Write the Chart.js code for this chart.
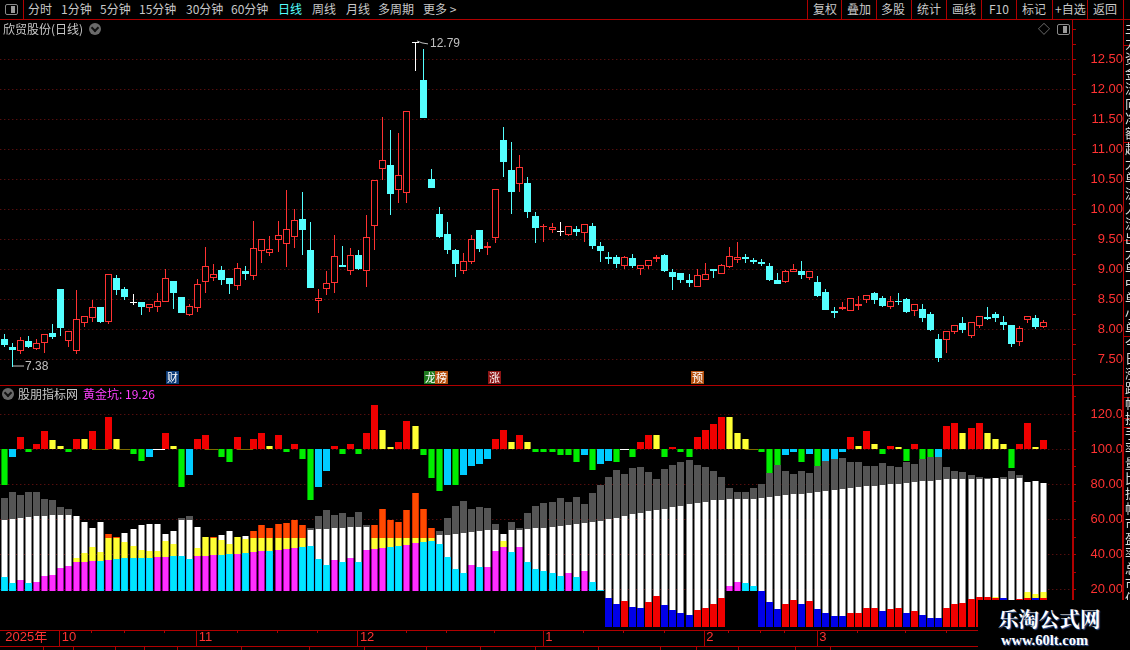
<!DOCTYPE html>
<html lang="zh">
<head>
<meta charset="utf-8">
<title>欣贸股份(日线)</title>
<script src="https://cdn.jsdelivr.net/npm/chart.js@4/dist/chart.umd.min.js"></script>
<style>
html, body { margin: 0; background: #000; }
body { position: relative; width: 1130px; height: 650px; overflow: hidden; font-family: "Noto Sans CJK SC", sans-serif; font-size: 12px; color: #c8c8c8; }
canvas { position: absolute; left: 0; }
#priceChart { top: 20px; }
#pitChart { top: 386px; }
.t { position: absolute; white-space: nowrap; line-height: 16px; }
.line { position: absolute; background: #b00000; }
.dot { position: absolute; width: 12px; height: 12px; border-radius: 50%; background: #6a6a6a; }
.dot::after { content: ""; position: absolute; left: 3px; top: 2px; width: 4px; height: 4px; border: solid #111; border-width: 0 2px 2px 0; transform: rotate(45deg); }
.pane { position: absolute; width: 11px; height: 9px; border: 1px solid #8a8a8a; border-radius: 2px; }
.pane::after { content: ""; position: absolute; left: 5px; top: 1px; width: 4px; height: 7px; background: #9a9a9a; }
.badge { position: absolute; top: 371px; height: 13px; line-height: 13px; width: 13px; text-align: center; color: #fff; font-size: 11px; }
#strip { position: absolute; left: 1125px; top: 20px; width: 5px; height: 580px; overflow: hidden; font-size: 13px; line-height: 15px; color: #ddd; word-break: break-all; }
#mark { position: absolute; left: 978px; top: 600px; width: 152px; height: 50px; background: #000; color: #fff; font-family: "Liberation Serif", serif; font-weight: bold; }
#mark div { position: absolute; white-space: nowrap; text-shadow: 1px 1px 1px #35589a; }
</style>
</head>
<body>
<canvas id="priceChart" width="1123" height="365"></canvas>
<canvas id="pitChart" width="1123" height="260"></canvas>
<div id="overlay"></div>
<div id="strip"></div>
<div id="mark">
  <div style="left:20px;top:6px;font-size:20.5px;line-height:24px;font-family:'Noto Serif CJK SC','Noto Sans CJK SC',serif">乐淘公式网</div>
  <div style="left:23px;top:32px;font-size:14.5px;line-height:16px">www.60lt.com</div>
</div>
<script>
// 日K线数据
const priceOpen = [
  7.84, 7.71, 7.64, 7.81, 7.67, 7.78, 7.94, 8.67, 7.81, 7.64,
  8.11, 8.19, 8.37, 8.12, 8.86, 8.67, 8.46, 8.46, 8.36, 8.37,
  8.46, 8.81, 8.54, 8.24, 8.36, 8.79, 8.86, 8.99, 8.86, 8.72,
  8.97, 8.89, 9.31, 9.27, 9.49, 9.42, 9.54, 9.84, 9.33, 8.47,
  8.67, 8.78, 9.07, 8.97, 9.24, 8.97, 9.72, 10.68, 10.74, 10.32,
  10.28, 12.79, 12.16, 10.51, 9.93, 9.59, 9.33, 8.98, 9.13, 9.66,
  9.35, 9.53, 11.16, 10.66, 10.43, 10.44, 9.89, 9.70, 9.66, 9.64,
  9.57, 9.67, 9.61, 9.72, 9.39, 9.21, 9.21, 9.06, 9.19, 9.01,
  9.06, 9.18, 9.24, 8.96, 8.94, 8.82, 8.71, 8.82, 9.01, 8.92,
  9.04, 9.16, 9.21, 9.16, 9.12, 9.06, 8.82, 8.79, 8.96, 8.97,
  8.86, 8.79, 8.62, 8.30, 8.34, 8.31, 8.39, 8.49, 8.61, 8.52,
  8.37, 8.47, 8.51, 8.31, 8.34, 8.26, 7.84, 7.83, 7.96, 8.11,
  7.89, 8.06, 8.20, 8.26, 8.12, 8.07, 7.79, 8.16, 8.19, 8.04
];
const priceClose = [
  7.74, 7.66, 7.83, 7.71, 7.77, 7.93, 7.87, 8.02, 7.98, 8.17,
  8.23, 8.37, 8.12, 8.93, 8.66, 8.54, 8.46, 8.37, 8.42, 8.47,
  8.85, 8.61, 8.27, 8.39, 8.75, 9.05, 8.92, 8.82, 8.76, 9.02,
  8.92, 9.35, 9.50, 9.34, 9.57, 9.67, 9.82, 9.66, 8.69, 8.52,
  8.77, 9.22, 9.04, 9.24, 9.01, 9.54, 10.49, 10.82, 10.26, 10.57,
  11.64, 12.79, 11.53, 10.36, 9.54, 9.33, 9.09, 9.14, 9.51, 9.34,
  9.39, 10.34, 10.79, 10.29, 10.71, 9.96, 9.69, 9.73, 9.70, 9.64,
  9.72, 9.62, 9.75, 9.39, 9.31, 9.17, 9.09, 9.20, 9.06, 9.08,
  9.15, 9.21, 8.97, 8.87, 8.82, 8.77, 8.90, 8.92, 8.97, 9.07,
  9.22, 9.20, 9.17, 9.12, 9.09, 8.82, 8.76, 8.97, 9.00, 8.91,
  8.97, 8.56, 8.32, 8.28, 8.37, 8.52, 8.42, 8.58, 8.49, 8.39,
  8.47, 8.45, 8.29, 8.42, 8.19, 7.99, 7.52, 7.97, 8.08, 7.99,
  8.13, 8.23, 8.17, 8.19, 8.07, 7.76, 8.02, 8.23, 8.04, 8.13
];
const priceHigh = [
  7.92, 7.77, 7.87, 7.89, 7.84, 7.93, 8.09, 8.67, 7.98, 8.65,
  8.23, 8.49, 8.37, 8.93, 8.91, 8.71, 8.59, 8.46, 8.42, 8.61,
  9.00, 8.81, 8.54, 8.42, 8.84, 9.37, 9.09, 9.06, 8.86, 9.11,
  9.06, 9.81, 9.50, 9.56, 9.81, 10.33, 10.00, 10.29, 9.79, 8.68,
  8.98, 9.58, 9.39, 9.36, 9.33, 9.91, 10.49, 11.54, 11.33, 11.28,
  11.64, 12.79, 12.68, 10.68, 10.04, 9.79, 9.34, 9.28, 9.58, 9.66,
  9.46, 10.34, 11.38, 11.13, 10.91, 10.54, 9.96, 9.76, 9.77, 9.79,
  9.72, 9.72, 9.75, 9.77, 9.46, 9.29, 9.24, 9.22, 9.26, 9.08,
  9.15, 9.24, 9.26, 9.01, 8.94, 8.92, 9.01, 9.11, 9.01, 9.09,
  9.37, 9.46, 9.26, 9.19, 9.17, 9.11, 8.94, 8.99, 9.09, 9.14,
  8.97, 8.89, 8.67, 8.37, 8.46, 8.52, 8.56, 8.58, 8.62, 8.56,
  8.56, 8.61, 8.52, 8.42, 8.42, 8.29, 7.92, 7.97, 8.08, 8.21,
  8.13, 8.23, 8.37, 8.29, 8.22, 8.07, 8.05, 8.23, 8.24, 8.16
];
const priceLow = [
  7.71, 7.38, 7.59, 7.69, 7.66, 7.61, 7.84, 7.89, 7.71, 7.59,
  8.04, 8.12, 8.11, 8.09, 8.57, 8.49, 8.41, 8.24, 8.29, 8.29,
  8.46, 8.34, 8.27, 8.22, 8.29, 8.61, 8.81, 8.74, 8.59, 8.66,
  8.82, 8.82, 9.11, 9.23, 9.29, 9.04, 9.36, 9.24, 8.69, 8.28,
  8.58, 8.61, 9.04, 8.91, 8.99, 8.71, 9.33, 10.49, 9.91, 10.11,
  10.11, 12.31, 11.53, 10.36, 9.53, 9.26, 8.88, 8.93, 9.09, 9.29,
  9.24, 9.44, 10.54, 9.93, 10.29, 9.86, 9.44, 9.46, 9.61, 9.56,
  9.56, 9.56, 9.46, 9.34, 9.12, 9.09, 9.02, 9.01, 9.02, 8.91,
  9.01, 9.12, 8.96, 8.66, 8.77, 8.71, 8.71, 8.82, 8.86, 8.92,
  9.02, 9.11, 9.11, 9.09, 9.06, 8.81, 8.76, 8.77, 8.96, 8.84,
  8.82, 8.54, 8.32, 8.19, 8.32, 8.31, 8.32, 8.44, 8.42, 8.37,
  8.34, 8.41, 8.27, 8.22, 8.12, 7.97, 7.46, 7.61, 7.92, 7.94,
  7.86, 8.02, 8.16, 8.12, 7.99, 7.71, 7.72, 8.11, 8.01, 8.02
];

// 上方红绿柱 (以100为中轴)
const histValue = [
  79.7, 95.6, 107, 98.5, 103, 110.4, 105.3, 101.9, 98.5, 105.9,
  105.9, 110.4, 100, 118.4, 105.9, 100, 97.3, 93.4, 95.6, 100,
  109.3, 101.9, 78.6, 85.4, 105.9, 108.2, 100, 95.6, 92.8, 107,
  100, 105.9, 109.3, 101.9, 108.2, 98.5, 103, 94.5, 71.2, 78.6,
  87.7, 101.9, 97.3, 103, 97.3, 109.3, 125.2, 111, 101.3, 104.2,
  116.1, 113.3, 96.8, 83.7, 76.3, 79.7, 79.7, 85.4, 90.5, 91.7,
  94.5, 105.9, 111, 104.2, 108.2, 104.2, 98.5, 98.5, 98.5, 96.8,
  96.8, 92.8, 96.8, 88.2, 91.7, 93.4, 92.8, 100, 95.6, 104.2,
  108.2, 108.2, 95.6, 101.3, 98.5, 95.6, 107, 111, 114.4, 118.4,
  118.4, 109.3, 105.9, 100, 98.5, 86.5, 91.1, 96.8, 98.5, 92.8,
  97.3, 90.5, 93.4, 94.5, 98.5, 107, 101.9, 110.4, 103, 97.3,
  101.9, 101.3, 93.4, 103, 94.5, 95.6, 95.6, 113.3, 115, 109.3,
  112.1, 115, 109.3, 105.9, 103, 89.4, 103, 115, 101.3, 105.3
];
// r红 y黄 g绿 c青 f平(暗黄) w平(白)
const histKind = [
  'g','c','r','g','r','r','y','y','g','r',
  'y','r','f','r','y','f','g','g','c','w',
  'r','y','g','c','r','r','f','g','g','r',
  'f','r','r','y','r','g','r','g','g','c',
  'c','r','g','r','g','r','r','y','y','r',
  'r','y','g','g','g','c','g','c','c','c',
  'c','r','r','y','r','y','g','g','g','g',
  'g','g','c','g','c','c','g','w','g','r',
  'r','y','g','r','g','g','r','r','r','r',
  'y','y','y','f','g','g','g','c','c','g',
  'c','g','c','c','c','r','y','r','y','g',
  'r','y','g','r','g','g','c','r','r','y',
  'r','r','y','y','y','g','r','r','y','r'
];

// 下方柱: 底色段 (c青 m紫 b蓝 r红)
const baseKind = [
  'c','c','m','c','m','m','m','m','m','m',
  'm','m','c','m','c','c','c','c','c','m',
  'm','c','c','c','m','m','m','c','c','m',
  'c','m','m','c','m','m','m','c','c','c',
  'c','m','c','m','c','m','m','m','c','c',
  'm','m','c','c','c','c','c','c','m','c',
  'm','m','m','c','m','c','c','c','c','c',
  'm','c','m','c','c','b','b','r','b','b',
  'r','r','b','b','b','b','r','r','r','r',
  'm','m','c','c','b','b','b','r','r','b',
  'r','b','b','b','b','r','r','r','r','b',
  'r','r','b','r','b','b','b','r','r','r',
  'r','r','r','r','b','r','r','r','b','r'
];
const baseTop = [
  27.3, 23.9, 25.6, 23.9, 24.5, 27.9, 28.5, 32.4, 33.6, 35.9,
  35.9, 36.4, 36.4, 37.0, 37.6, 38.1, 38.1, 38.1, 38.1, 38.7,
  38.7, 39.3, 39.3, 37.6, 39.3, 39.3, 39.8, 39.8, 40.4, 40.4,
  41.0, 41.6, 42.1, 42.1, 42.7, 43.3, 43.8, 44.4, 45.0, 37.6,
  34.2, 37.0, 35.9, 38.1, 35.9, 42.7, 43.3, 43.8, 44.4, 45.0,
  45.5, 46.7, 47.2, 47.8, 46.1, 38.7, 31.9, 29.6, 34.2, 33.0,
  33.0, 42.1, 44.4, 41.6, 44.4, 35.9, 31.9, 30.7, 29.6, 27.9,
  29.6, 27.3, 30.7, 24.5, 19.9, 15.2, 12.0, 13.7, 10.2, 9.7,
  13.1, 16.5, 11.4, 8.5, 6.8, 5.7, 8.5, 9.7, 12.0, 15.4,
  22.2, 24.5, 23.9, 22.2, 19.3, 13.1, 9.1, 12.0, 14.2, 12.0,
  13.7, 9.1, 6.8, 5.1, 5.1, 6.8, 6.8, 9.7, 9.7, 8.0,
  9.1, 9.7, 6.8, 8.0, 5.7, 4.0, 4.0, 9.7, 12.0, 12.5,
  14.8, 15.9, 15.9, 15.2, 15.2, 14.2, 14.8, 15.2, 15.2, 15.2
];
const yellowTop = [
  null, null, null, null, null, null, null, null, null, 38.1,
  41.0, 44.4, 41.6, 49.5, 49.5, 47.2, 45.0, 42.7, 42.1, 42.1,
  47.8, 46.1, null, null, 43.8, 50.1, 49.5, 48.4, 46.1, 50.1,
  49.0, 49.5, 49.5, 49.5, 49.5, 49.5, 49.5, 49.5, null, null,
  null, null, null, null, null, null, 49.5, 49.5, 49.5, 49.5,
  49.5, 49.5, 49.5, 49.5, null, null, null, null, null, null,
  null, null, 47.8, null, null, null, null, null, null, null,
  null, null, null, null, null, null, null, null, null, null,
  null, null, null, null, null, null, null, null, null, null,
  null, null, null, null, null, null, null, null, null, null,
  null, null, null, null, null, null, null, null, null, null,
  null, null, null, null, null, null, null, null, null, null,
  null, null, null, 15.9, null, null, null, 18.6, 17.5, 18.6
];
const whiteTop = [
  59.8, 60.3, 60.9, 61.5, 62.0, 62.0, 62.6, 62.6, 62.6, 62.0,
  58.6, 55.2, 58.6, null, null, 52.4, 54.6, 56.9, 57.5, 57.5,
  51.8, 53.5, 59.8, 59.8, 55.8, null, null, 51.2, 53.5, null,
  50.7, null, null, null, null, null, null, null, 54.1, 54.6,
  54.6, 55.2, 55.2, 55.8, 55.8, 55.8, null, null, null, null,
  null, null, null, null, 51.2, 51.2, 51.8, 52.4, 52.9, 53.5,
  54.1, 54.1, 51.8, 54.1, 54.1, 54.6, 55.2, 55.2, 55.8, 56.4,
  56.9, 57.5, 58.1, 58.6, 59.2, 60.3, 60.9, 62.0, 63.2, 63.8,
  64.9, 65.5, 66.0, 67.2, 67.7, 68.9, 69.4, 70.0, 71.2, 71.2,
  71.7, 71.7, 71.7, 71.7, 72.3, 72.9, 73.4, 74.0, 74.6, 74.6,
  75.1, 75.7, 76.3, 76.9, 77.4, 78.0, 78.6, 79.1, 79.1, 79.7,
  80.3, 80.3, 80.8, 81.4, 82.0, 82.0, 82.5, 83.1, 83.1, 83.1,
  83.1, 83.1, 83.1, 83.7, 83.1, 83.1, 83.7, 81.4, 82.0, 80.8
];
const capTop = [
  72.3, 75.7, 74.0, 75.7, 75.7, 71.7, 71.2, 67.2, 66.0, null,
  null, null, null, 51.8, 50.1, null, null, null, null, null,
  null, null, 60.9, 62.0, null, null, 50.1, null, null, null,
  null, 53.5, 56.9, 55.2, 57.5, 58.1, 59.8, 56.9, 55.2, 62.0,
  65.5, 62.6, 63.8, 61.5, 64.3, 56.9, 56.9, 66.0, 59.8, 58.6,
  65.5, 75.1, 66.0, 55.2, 53.5, 60.9, 67.7, 70.6, 66.0, 67.2,
  66.6, 57.5, null, 58.6, 55.2, 63.8, 67.7, 69.4, 70.0, 72.3,
  70.0, 72.9, 68.9, 75.1, 79.7, 84.3, 88.2, 86.0, 89.4, 89.9,
  87.1, 83.1, 88.8, 91.1, 92.8, 93.9, 91.1, 89.9, 87.7, 84.3,
  78.0, 75.7, 75.7, 78.0, 80.3, 86.5, 91.1, 87.7, 86.0, 87.7,
  86.5, 90.5, 93.4, 94.5, 95.1, 92.8, 92.8, 90.5, 90.5, 92.2,
  90.5, 89.9, 92.8, 91.7, 94.5, 95.6, 95.6, 89.9, 87.7, 87.1,
  85.4, 84.3, 83.7, null, 84.3, 87.7, 85.4, null, null, null
];
const pitLevel = 19.26;
const floorLevel = -1;

// 坐标轴刻度文字
const priceTickLabels = ['12.50','12.00','11.50','11.00','10.50','10.00','9.50','9.00','8.50','8.00','7.50'];
const pitTickLabels = ['120.0','100.0','80.00','60.00','40.00','20.00'];
const timeTickIndex = [0, 7, 24, 44, 67, 87, 101];
const timeTickLabels = ['2025年', '10', '11', '12', '1', '2', '3'];
const weekTickIndex = [11, 15, 20, 29, 34, 39, 50, 55, 61, 72, 77, 82, 90, 94, 97, 106, 112, 117, 122, 127];

// 配色
const COLORS = {
    frame: '#b00000',
    axisText: '#ff3232',
    grid: '#7a1414',
    candleUp: '#ff3232',
    candleDown: '#54ffff',
    candleFlat: '#ffffff',
    note: '#c0c0c0'
};
const HIST_CORE = { r: '#f00000', y: '#ffff33', g: '#00ee00', c: '#00ccff', f: '#7d6c00', w: '#ffffff' };
const HIST_EDGE = { r: '#f00000', y: '#9a9a20', g: '#008c00', c: '#00ccff', f: '#7d6c00', w: '#ffffff' };
const BASE_CORE = { c: '#00e6ff', m: '#ff2eff', b: '#0000e8', r: '#f00000' };
const BASE_EDGE = { c: '#00c4ff', m: '#98009a', b: '#0000e8', r: '#f00000' };

const slotCount = 133; // 右端留3根空位
const slotLabels = Array.from({ length: slotCount }, (_, i) => String(i));

// 柱子对齐到整像素, 和原图一样不发虚
const snapBars = {
    id: 'snapBars',
    afterDatasetsUpdate(chart) {
        chart.getSortedVisibleDatasetMetas().forEach(meta => {
            meta.data.forEach(bar => {
                if (bar.skip) return;
                const odd = Math.round(bar.width) % 2 === 1;
                bar.x = Math.floor(bar.x - 0.25) + (odd ? 0.5 : 0);
                let top = Math.round(Math.min(bar.y, bar.base));
                let bottom = Math.round(Math.max(bar.y, bar.base));
                if (bottom - top < 1) bottom = top + 1;
                bar.y = top;
                bar.base = bottom;
            });
        });
    }
};

// 最高价/最低价标注
const extremeNotes = {
    id: 'extremeNotes',
    afterDatasetsDraw(chart) {
        const { ctx, scales: { x, y } } = chart;
        const hi = Math.max(...priceHigh);
        const lo = Math.min(...priceLow);
        const hx = Math.floor(x.getPixelForValue(priceHigh.indexOf(hi)));
        const lx = Math.floor(x.getPixelForValue(priceLow.indexOf(lo)));
        const hy = y.getPixelForValue(hi);
        const ly = y.getPixelForValue(lo);
        ctx.save();
        ctx.strokeStyle = COLORS.note;
        ctx.fillStyle = COLORS.note;
        ctx.lineWidth = 1;
        ctx.beginPath();
        ctx.moveTo(hx + 2, hy - 1); ctx.lineTo(hx + 7, hy + 1); ctx.lineTo(hx + 13, hy + 2);
        ctx.moveTo(lx + 1, ly - 0.5); ctx.lineTo(lx + 12, ly - 0.5);
        ctx.stroke();
        ctx.font = '12px "Liberation Sans"';
        ctx.textBaseline = 'middle';
        ctx.fillText(hi.toFixed(2), hx + 15, hy + 2);
        ctx.fillText(lo.toFixed(2), lx + 13, ly);
        ctx.restore();
    }
};

// 时间轴刻度线
const timeTicks = {
    id: 'timeTicks',
    afterDraw(chart) {
        const { ctx, chartArea, scales: { x } } = chart;
        ctx.save();
        ctx.strokeStyle = COLORS.frame;
        ctx.lineWidth = 1;
        ctx.beginPath();
        timeTickIndex.slice(1).forEach(i => {
            const px = Math.floor(x.getPixelForValue(i)) - 0.5;
            ctx.moveTo(px, chartArea.bottom);
            ctx.lineTo(px, chartArea.bottom + 16);
        });
        weekTickIndex.forEach(i => {
            const px = Math.floor(x.getPixelForValue(i)) - 0.5;
            ctx.moveTo(px, chartArea.bottom);
            ctx.lineTo(px, chartArea.bottom + 3);
        });
        ctx.stroke();
        ctx.restore();
    }
};

function barSet(data, color, thickness, order, border) {
    return {
        data, order,
        backgroundColor: color,
        barThickness: thickness,
        inflateAmount: 0,
        grouped: false,
        borderWidth: border ? 1 : 0,
        borderColor: border || 'transparent',
        borderSkipped: false
    };
}

function yAxis(min, max, step, tickLabels) {
    const isLabelled = v => tickLabels.some(t => Number(t) === v);
    return {
        position: 'right',
        min, max,
        afterFit(scale) {
            scale.width = 51;
            scale.paddingTop = 0;
            scale.paddingBottom = 0;
        },
        border: { color: COLORS.frame, dash: [1, 3] },
        grid: {
            color: ctx => isLabelled(ctx.tick.value) ? COLORS.grid : 'transparent',
            tickColor: COLORS.frame,
            tickLength: 4,
            tickBorderDash: []
        },
        ticks: {
            stepSize: step,
            autoSkip: false,
            includeBounds: false,
            crossAlign: 'far',
            padding: 4,
            color: COLORS.axisText,
            font: { family: 'Liberation Sans', size: 13 },
            callback: v => tickLabels.find(t => Number(t) === v) || ''
        }
    };
}

function baseOptions() {
    return {
        responsive: false,
        animation: false,
        devicePixelRatio: 1,
        events: [],
        layout: { padding: { left: 0.3 } },
        plugins: { legend: { display: false }, tooltip: { enabled: false } }
    };
}

// K线图
function drawPriceChart() {
    const kind = i => priceClose[i] > priceOpen[i] ? COLORS.candleUp
        : priceClose[i] < priceOpen[i] ? COLORS.candleDown : COLORS.candleFlat;
    const wickData = priceLow.map((l, i) => [l, priceHigh[i]]);
    const bodyData = priceOpen.map((o, i) => [o, priceClose[i]]);
    const lineColor = priceOpen.map((_, i) => kind(i));
    const bodyFill = priceOpen.map((_, i) => kind(i) === COLORS.candleUp ? '#000000' : kind(i));
    new Chart(document.getElementById('priceChart'), {
        type: 'bar',
        data: {
            labels: slotLabels,
            datasets: [
                barSet(bodyData, bodyFill, 7, 1, lineColor),
                barSet(wickData, lineColor, 1, 2)
            ]
        },
        options: Object.assign(baseOptions(), {
            scales: {
                x: { display: false, offset: true },
                y: yAxis(7.072, 13.155, 0.25, priceTickLabels)
            }
        }),
        plugins: [snapBars, extremeNotes]
    });
}

// 黄金坑指标图
function drawPitChart() {
    const floorOf = i => (baseKind[i] === 'b' || baseKind[i] === 'r') ? floorLevel : pitLevel;
    const baseData = baseTop.map((v, i) => [floorOf(i), v]);
    const yellowData = yellowTop.map((v, i) => v === null ? null : [baseTop[i], v]);
    const whiteData = whiteTop.map((v, i) => v === null ? null : [yellowTop[i] ?? baseTop[i], v]);
    const capFloor = i => whiteTop[i] ?? yellowTop[i] ?? baseTop[i];
    const greyData = capTop.map((v, i) => v === null || whiteTop[i] === null ? null : [capFloor(i), v]);
    const orangeData = capTop.map((v, i) => v === null || whiteTop[i] !== null ? null : [capFloor(i), v]);
    const isFlat = k => k === 'f' || k === 'w';
    const histData = histValue.map((v, i) => isFlat(histKind[i]) ? null : [100, v]);
    const flatData = histValue.map((v, i) => isFlat(histKind[i]) ? [100, v] : null);

    new Chart(document.getElementById('pitChart'), {
        type: 'bar',
        data: {
            labels: slotLabels,
            datasets: [
                barSet(histData, histKind.map(k => HIST_CORE[k]), 5, 1),
                barSet(histData, histKind.map(k => HIST_EDGE[k]), 7, 2),
                barSet(flatData, histKind.map(k => HIST_CORE[k]), 16, 3),
                barSet(baseData, baseKind.map(k => BASE_CORE[k]), 5, 1),
                barSet(baseData, baseKind.map(k => BASE_EDGE[k]), 7, 2),
                barSet(yellowData, '#ffff33', 5, 1),
                barSet(yellowData, '#a8a820', 7, 2),
                barSet(whiteData, '#ffffff', 5, 1),
                barSet(whiteData, '#858585', 7, 2),
                barSet(orangeData, '#ff4a00', 5, 1),
                barSet(orangeData, '#d02c00', 7, 2),
                barSet(greyData, '#555555', 7, 2)
            ]
        },
        options: Object.assign(baseOptions(), {
            scales: {
                x: {
                    offset: true,
                    afterFit(scale) {
                        scale.height = 16;
                        scale.paddingLeft = 0;
                        scale.paddingRight = 0;
                    },
                    border: { display: false },
                    grid: { display: false, drawTicks: false },
                    ticks: {
                        autoSkip: false,
                        maxRotation: 0,
                        align: 'start',
                        labelOffset: 1,
                        padding: 0,
                        color: COLORS.axisText,
                        font: { family: '"Liberation Sans", "Noto Sans CJK SC"', size: 13 },
                        callback: (_, i) => {
                            const at = timeTickIndex.indexOf(i);
                            return at < 0 ? '' : timeTickLabels[at];
                        }
                    }
                },
                y: yAxis(-2.85, 136, 10, pitTickLabels)
            }
        }),
        plugins: [snapBars, timeTicks]
    });
}

// 界面文字和边框
const toolbarLeft = [['分时',28],['1分钟',61],['5分钟',100],['15分钟',139],['30分钟',186],['60分钟',231],['日线',278,'#54ffff'],['周线',312],['月线',346],['多周期',378],['更多 >',423]];
const toolbarRight = [['复权',813],['叠加',847],['多股',881],['统计',917],['画线',952],['F10',989],['标记',1022],['+自选',1055],['返回',1093]];
const toolbarSeparators = [23, 807, 841, 876, 911, 946, 981, 1016, 1052, 1087, 1123];
const bottomSeparators = [43, 73, 115, 144, 177, 241, 309, 364, 426, 480, 535, 598, 660, 696, 738, 795, 830];
const stripText = '主力资金流向净额超大单流入流出大单中单小单今日涨跌幅换手率量比振幅市盈率总市值流通市值主力资金流向净额超大单流入流出';

function addText(text, left, top, color, parent) {
    const el = document.createElement('div');
    el.className = 't';
    el.textContent = text;
    el.style.left = left + 'px';
    el.style.top = top + 'px';
    if (color) el.style.color = color;
    (parent || overlay).appendChild(el);
    return el;
}

function addLine(left, top, width, height) {
    const el = document.createElement('div');
    el.className = 'line';
    el.style.cssText = `left:${left}px;top:${top}px;width:${width}px;height:${height}px`;
    overlay.appendChild(el);
}

function addBadge(text, left, color) {
    const el = document.createElement('div');
    el.className = 'badge';
    el.textContent = text;
    el.style.left = left + 'px';
    el.style.background = color;
    overlay.appendChild(el);
}

function addBox(className, left, top) {
    const el = document.createElement('div');
    el.className = className;
    el.style.left = left + 'px';
    el.style.top = top + 'px';
    overlay.appendChild(el);
}

const overlay = document.getElementById('overlay');

function drawInterface() {
    toolbarLeft.forEach(([t, x, c]) => addText(t, x, 1, c));
    toolbarRight.forEach(([t, x]) => addText(t, x, 1));
    toolbarSeparators.forEach(x => addLine(x, 0, 1, 19));
    addLine(0, 19, 1130, 1);
    addLine(0, 385, 1123, 1);
    addLine(1072, 20, 1, 366);
    addLine(1072, 386, 2, 260);
    addLine(1122, 386, 2, 214);
    addLine(1123, 20, 1, 366);
    [45, 142, 240, 336, 397, 418, 427].forEach(y => addLine(1123, y, 7, 1));
    addLine(0, 630, 1074, 1);
    addLine(0, 646, 1130, 1);
    bottomSeparators.forEach(x => addLine(x, 646, 1, 4));

    addBox('pane', 5, 4);
    addBox('pane', 1057, 24);
    addBox('dot', 89, 23);
    addBox('dot', 2, 388);

    addText('欣贸股份(日线)', 3, 21);
    addText('◇', 1038, 21, '#8a8a8a');
    addText('股朋指标网', 18, 386);
    addText('黄金坑: 19.26', 83, 386, '#ff40ff');

    addBadge('财', 166, '#0d3c78');
    addBadge('龙', 424, '#1f7a1f');
    addBadge('榜', 435, '#b5500f');
    addBadge('涨', 488, '#8c1414');
    addBadge('预', 691, '#b5500f');

    document.getElementById('strip').textContent = stripText;
}

drawPriceChart();
drawPitChart();
drawInterface();
</script>
</body>
</html>
